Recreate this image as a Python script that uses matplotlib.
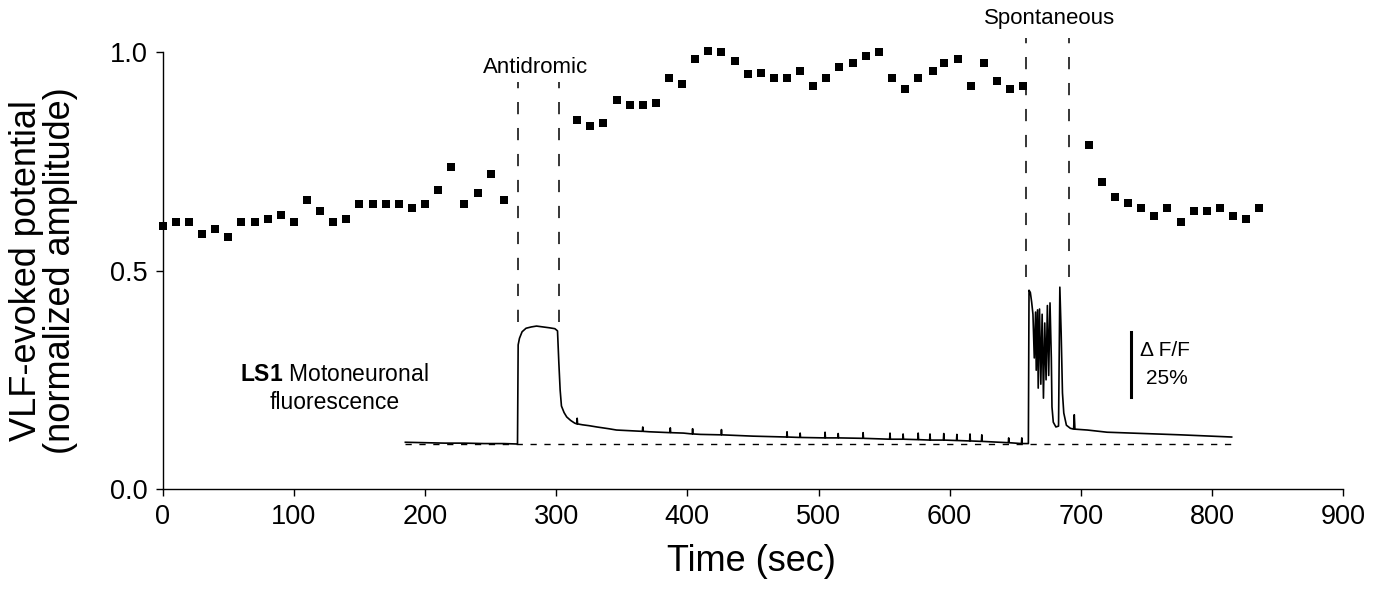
import matplotlib
matplotlib.use('Agg')
import matplotlib.pyplot as plt
import numpy as np

plt.rcParams['font.family'] = ['Liberation Sans', 'DejaVu Sans']
plt.rcParams['mathtext.fontset'] = 'custom'
plt.rcParams['mathtext.rm'] = 'Liberation Sans'
plt.rcParams['mathtext.bf'] = 'Liberation Sans:bold'

# VLF-evoked potential, normalized amplitude (one point every ~10 s)
vlf_t = [0, 10, 20, 30, 40, 50, 60, 70, 80, 90, 100, 110, 120, 130, 140, 150, 160, 170, 180, 190,
         200, 210, 220, 230, 240, 250, 260,
         316, 326, 336, 346, 356, 366, 376, 386, 396, 406, 416, 426, 436, 446, 456, 466, 476, 486,
         496, 506, 516, 526, 536, 546, 556, 566, 576, 587, 596, 606, 616, 626, 636, 646, 656,
         706, 716, 726, 736, 746, 756, 766, 776, 786, 796, 806, 816, 826, 836]
vlf_amp = [0.602, 0.611, 0.611, 0.584, 0.595, 0.577, 0.611, 0.611, 0.618, 0.627, 0.611, 0.661, 0.636,
           0.611, 0.618, 0.652, 0.652, 0.652, 0.652, 0.643, 0.652, 0.684, 0.737, 0.652, 0.677, 0.721,
           0.661,
           0.844, 0.831, 0.837, 0.890, 0.879, 0.879, 0.883, 0.940, 0.927, 0.984, 1.002, 1.000, 0.979,
           0.950, 0.952, 0.940, 0.940, 0.956, 0.922, 0.940, 0.966, 0.975, 0.991, 1.000, 0.940, 0.915,
           0.940, 0.956, 0.975, 0.984, 0.922, 0.975, 0.934, 0.915, 0.922,
           0.787, 0.703, 0.668, 0.654, 0.643, 0.625, 0.643, 0.611, 0.636, 0.636, 0.643, 0.625, 0.618,
           0.643]

# LS1 motoneuronal fluorescence trace
fl_t = [185, 200, 215, 230, 245, 260, 270.5,
        271, 272, 274, 277, 281, 285, 290, 295, 299, 301, 302, 303, 304, 306, 308, 311, 314,
        315.7, 316, 316.3, 320, 325, 331, 340, 346, 360, 365.7, 366, 366.3, 371, 385, 386.7, 387,
        387.3, 397, 403.7, 404, 404.3, 410, 425.7, 426, 426.3, 450, 475.7, 476, 476.3, 485.7, 486,
        486.3, 504.7, 505, 505.3, 514.7, 515, 515.3, 533.7, 534, 534.3, 554.2, 554.5, 554.8,
        564.2, 564.5, 564.8, 575.7, 576, 576.3, 584.7, 585, 585.3, 595.2, 595.5, 595.8, 605.2,
        605.5, 605.8, 615.2, 615.5, 615.8, 624.2, 624.5, 624.8, 644.7, 645, 645.3, 654.7, 655,
        655.3, 660,
        660.5, 661.5, 662.5, 663.5, 664.5, 665.5, 666, 667, 667.5, 668.5, 669.5, 670.5, 671.5,
        672.5, 673.5, 674.5, 675.5, 676.5, 677.5, 678, 679, 681, 683, 684, 685, 686, 687, 689,
        692, 694.5, 695, 695.5, 705, 720, 738, 776, 815]
fl_val = [0.107, 0.106, 0.105, 0.105, 0.104, 0.104, 0.103,
          0.330, 0.345, 0.360, 0.368, 0.371, 0.373, 0.371, 0.369, 0.367, 0.362, 0.290, 0.227, 0.190,
          0.175, 0.165, 0.157, 0.151,
          0.149, 0.162, 0.149, 0.147, 0.145, 0.142, 0.138, 0.135, 0.133, 0.132, 0.142, 0.132, 0.131,
          0.129, 0.129, 0.140, 0.129, 0.128, 0.126, 0.138, 0.126, 0.125, 0.124, 0.136, 0.124, 0.121,
          0.119, 0.131, 0.119, 0.118, 0.128, 0.118, 0.117, 0.130, 0.117, 0.117, 0.127, 0.117, 0.116,
          0.129, 0.116, 0.114, 0.128, 0.114, 0.114, 0.126, 0.114, 0.113, 0.128, 0.113, 0.112, 0.126,
          0.112, 0.112, 0.127, 0.112, 0.111, 0.125, 0.111, 0.110, 0.126, 0.110, 0.109, 0.124, 0.109,
          0.106, 0.117, 0.106, 0.104, 0.117, 0.104, 0.104,
          0.455, 0.450, 0.428, 0.400, 0.300, 0.405, 0.272, 0.410, 0.231, 0.412, 0.240, 0.400, 0.208,
          0.380, 0.250, 0.420, 0.260, 0.426, 0.300, 0.188, 0.153, 0.142, 0.144, 0.462, 0.357, 0.220,
          0.174, 0.146, 0.139, 0.137, 0.170, 0.137, 0.135, 0.130, 0.128, 0.124, 0.119]

baseline_y = 0.102
baseline_x = [185, 815]
antidromic = [271, 302]
spontaneous = [658, 691]

fig = plt.figure(figsize=(13.79, 6.0), dpi=100)
ax = fig.add_axes([0.118, 0.185, 0.856, 0.728])

ax.plot(vlf_t, vlf_amp, 's', color='black', markersize=5.2, markeredgewidth=0, clip_on=False,
        zorder=4)
ax.plot(fl_t, fl_val, '-', color='black', lw=1.2)
ax.plot(baseline_x, [baseline_y, baseline_y], color='black', lw=1.0, dashes=(4.5, 5.5))

for x in antidromic:
    ax.plot([x, x], [0.382, 0.931], color='black', lw=1.1, dashes=(8, 9), clip_on=False)
for x in spontaneous:
    ax.plot([x, x], [0.485, 1.032], color='black', lw=1.1, dashes=(8, 9), clip_on=False)

ax.text(284, 0.966, 'Antidromic', ha='center', va='center', fontsize=16)
ax.text(676, 1.078, 'Spontaneous', ha='center', va='center', fontsize=16, clip_on=False)
ax.text(131, 0.261, r'$\mathbf{LS1}$ Motoneuronal', ha='center', va='center', fontsize=16.5)
ax.text(131, 0.199, 'fluorescence', ha='center', va='center', fontsize=16.5)

# dF/F scale bar
ax.plot([738, 738], [0.21, 0.359], color='black', lw=2.2)
ax.text(745, 0.318, '\u0394 F/F', ha='left', va='center', fontsize=15)
ax.text(750, 0.254, '25%', ha='left', va='center', fontsize=15)

ax.set_xlim(0, 900)
ax.set_ylim(0, 1.0)
ax.set_xticks(np.arange(0, 901, 100))
ax.set_yticks([0.0, 0.5, 1.0])
ax.set_yticklabels(['0.0', '0.5', '1.0'])
ax.spines['top'].set_visible(False)
ax.spines['right'].set_visible(False)
for s in ['left', 'bottom']:
    ax.spines[s].set_linewidth(1.0)
ax.tick_params(direction='out', length=5, width=1.0, labelsize=19.5, pad=6)

ax.set_xlabel('Time (sec)', fontsize=26)
ax.xaxis.set_label_coords(0.499, -0.125)
ax.set_ylabel('VLF-evoked potential\n(normalized amplitude)', fontsize=26, linespacing=0.95)
ax.yaxis.set_label_coords(-0.072, 0.5)

fig.savefig('out.png', dpi=100)
